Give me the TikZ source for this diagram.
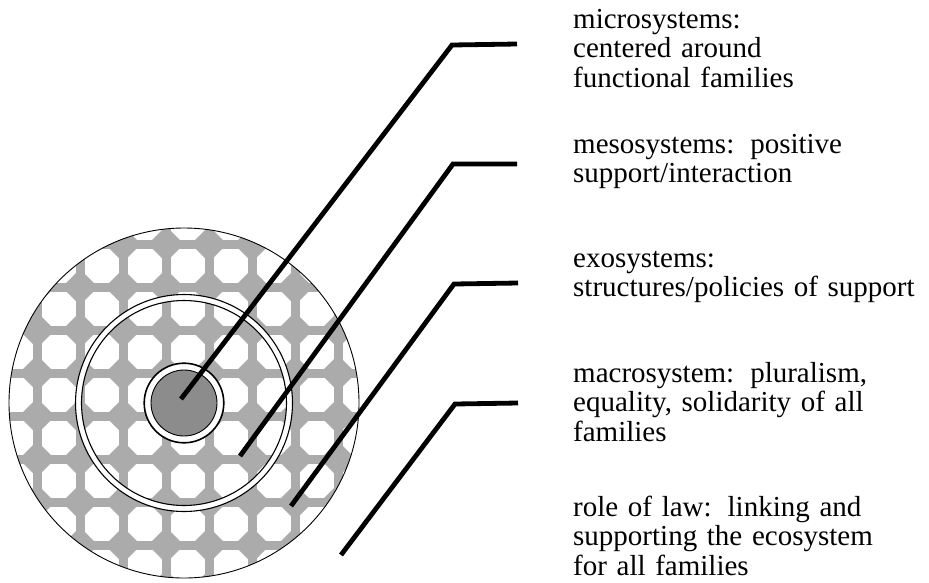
\documentclass[tikz,border=0pt]{standalone}
\usepackage{fontspec}
\setmainfont{Liberation Serif}
\begin{document}
\begin{tikzpicture}[x=1pt,y=-1pt,
  lbl/.style={anchor=base west, inner sep=0pt, text width=360pt, align=left,
              font=\fontsize{29}{29.5}\selectfont},
  leader/.style={line width=4.8pt, line join=miter},
  dot/.style={fill=black!33},
  ringline/.style={line width=1.1pt}]
\useasboundingbox (0,0) rectangle (929,582);
\coordinate (c) at (184,403);
% textured disc
\begin{scope}
  \clip (c) circle[radius=175];
  \fill[white] (c) circle[radius=175];
  \foreach \i [evaluate=\i as \x using -6+43*\i] in {0,...,9} {
    \foreach \j [evaluate=\j as \y using 201+43*\j] in {0,...,9} {
      \fill[dot, rounded corners=4pt] (\x-18,\y) -- (\x,\y-18) -- (\x+18,\y) -- (\x,\y+18) -- cycle;
      \fill[dot] (\x-21.5,\y-4.5) rectangle (\x+21.5,\y+4.5);
      \fill[dot] (\x-4.5,\y-21.5) rectangle (\x+4.5,\y+21.5);
    }
  }
\end{scope}
% rings
\draw[white, line width=6pt] (c) circle[radius=105.5];
\draw[ringline] (c) circle[radius=108.5];
\draw[ringline] (c) circle[radius=102.5];
\fill[black!45] (c) circle[radius=33];
\draw[white, line width=6.5pt] (c) circle[radius=36.5];
\draw[line width=1.6pt] (c) circle[radius=39.8];
\draw[line width=0.9pt] (c) circle[radius=33];
\draw[line width=0.9pt] (c) circle[radius=175];
% leader coordinates
\coordinate (e1) at (181,399); \coordinate (k1) at (452,45);  \coordinate (h1) at (517,44);
\coordinate (e2) at (240,456); \coordinate (k2) at (453,164); \coordinate (h2) at (517,164);
\coordinate (e3) at (291,506); \coordinate (k3) at (454,284); \coordinate (h3) at (518,283);
\coordinate (e4) at (341,555); \coordinate (k4) at (455,404); \coordinate (h4) at (518,403);
\draw[leader] (e1) -- (k1) -- (h1);
\draw[leader] (e2) -- (k2) -- (h2);
\draw[leader] (e3) -- (k3) -- (h3);
\draw[leader] (e4) -- (k4) -- (h4);
% labels
\node[lbl] (t1) at (573,28)  {microsystems:\\centered around\\functional families};
\node[lbl] (t2) at (573,153) {mesosystems:\hspace{0.55em}positive\\support/interaction};
\node[lbl] (t3) at (573,267) {exosystems:\\structures/policies of support};
\node[lbl] (t4) at (573,382) {macrosystem:\hspace{0.55em}pluralism,\\equality, solidarity of all\\families};
\node[lbl] (t5) at (573,516) {role of law:\hspace{0.55em}linking and\\supporting the ecosystem\\for all families};
\end{tikzpicture}
\end{document}
